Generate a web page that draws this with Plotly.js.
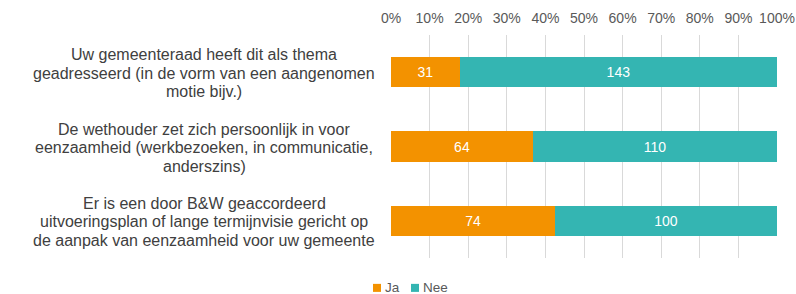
<!DOCTYPE html>
<html>
<head>
<meta charset="utf-8">
<script src="https://cdn.plot.ly/plotly-3.0.1.min.js"></script>
<style>html,body{margin:0;padding:0;background:#fff}#chart{width:796px;height:294px}</style>
</head>
<body>
<div id="chart"></div>
<script>
const categories = [
  ["Uw gemeenteraad heeft dit als thema", "geadresseerd (in de vorm van een aangenomen", "motie bijv.)"],
  ["De wethouder zet zich persoonlijk in voor", "eenzaamheid (werkbezoeken, in communicatie,", "anderszins)"],
  ["Er is een door B&W geaccordeerd", "uitvoeringsplan of lange termijnvisie gericht op", "de aanpak van eenzaamheid voor uw gemeente"]
];
const catKeys = ["c1", "c2", "c3"];
const jaValues = [31, 64, 74];
const neeValues = [143, 110, 100];
const seriesNames = ["Ja", "Nee"];
const seriesColors = ["#F39200", "#34B5B2"];
const tickVals = [0,10,20,30,40,50,60,70,80,90,100];
const tickText = ["0%","10%","20%","30%","40%","50%","60%","70%","80%","90%","100%"];

const font = "'Liberation Sans', Arial, sans-serif";
const traces = [jaValues, neeValues].map((vals, k) => ({
  type: "bar", orientation: "h", name: seriesNames[k],
  y: catKeys, x: vals,
  text: vals.map(String), textposition: "inside", insidetextanchor: "middle",
  textfont: {family: font, size: 14, color: "#ffffff"},
  marker: {color: seriesColors[k]},
  width: 0.41, hoverinfo: "none", showlegend: false
}));

const lineGap = 18.5;
const annotations = [];
categories.forEach((lines, i) => {
  const mid = (lines.length - 1) / 2;
  lines.forEach((ln, j) => {
    annotations.push({
      xref: "paper", yref: "y", x: -0.484, y: catKeys[i], yshift: (mid - j) * lineGap - 1,
      xanchor: "center", yanchor: "middle", align: "center",
      text: ln, showarrow: false,
      font: {family: font, size: 16, color: "#404040"}
    });
  });
});

// custom legend (small squares + labels)
const legX = [-0.0466, 0.0518];
const shapes = [];
seriesNames.forEach((n, k) => {
  shapes.push({type: "rect", xref: "paper", yref: "paper",
    x0: legX[k], x1: legX[k] + 0.0207, y0: -0.152, y1: -0.116,
    fillcolor: seriesColors[k], line: {width: 0}});
  annotations.push({xref: "paper", yref: "paper", x: legX[k] + 0.0285, y: -0.132,
    xanchor: "left", yanchor: "middle", text: n, showarrow: false, borderpad: 0,
    font: {family: font, size: 13.5, color: "#595959"}});
});

Plotly.newPlot("chart", traces, {
  width: 796, height: 294,
  margin: {l: 391, r: 19, t: 35, b: 36},
  barmode: "stack", barnorm: "percent",
  paper_bgcolor: "#fff", plot_bgcolor: "#fff",
  xaxis: {
    side: "top", range: [0, 100], tickmode: "array", tickvals: tickVals, ticktext: tickText,
    showgrid: true, gridcolor: "#d9d9d9", gridwidth: 1, zeroline: false,
    showline: false, ticks: "", ticklabelstandoff: 8,
    tickfont: {family: font, size: 14, color: "#595959"}, fixedrange: true
  },
  yaxis: {
    categoryorder: "array", categoryarray: catKeys.slice().reverse(),
    showticklabels: false, showgrid: false, zeroline: false, ticks: "", fixedrange: true
  },
  annotations: annotations,
  shapes: shapes,
  showlegend: false
}, {displayModeBar: false, staticPlot: true});
</script>
</body>
</html>
